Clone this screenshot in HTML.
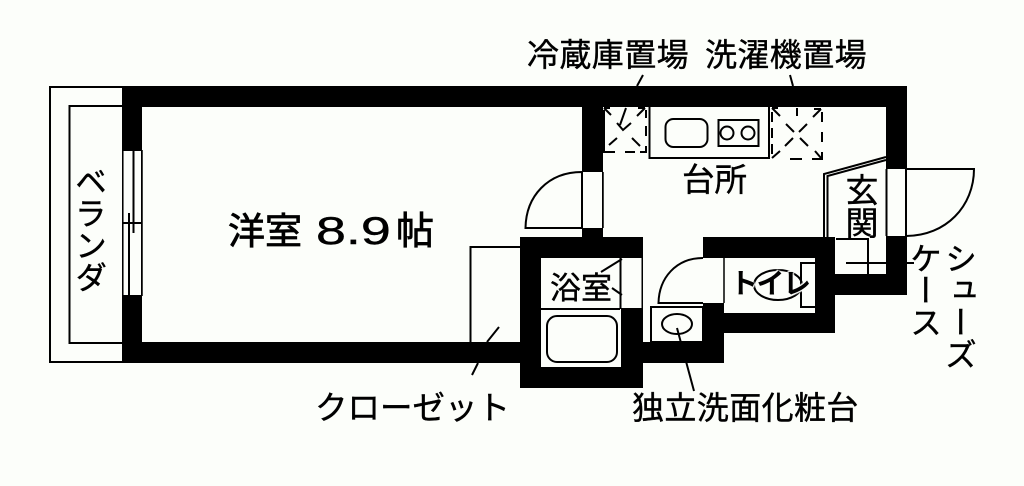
<!DOCTYPE html>
<html><head><meta charset="utf-8"><style>
html,body{margin:0;padding:0;background:#fcfefa;}
body{width:1024px;height:486px;overflow:hidden;position:relative;font-family:"Liberation Sans","Noto Sans CJK JP",sans-serif;color:#000;}
svg{position:absolute;left:0;top:0;}
.t{position:absolute;white-space:nowrap;line-height:1;-webkit-text-stroke:.4px #000;}
.v{writing-mode:vertical-rl;}
</style></head><body>
<svg width="1024" height="486" viewBox="0 0 1024 486">
<rect x="0" y="0" width="1024" height="486" fill="#fcfefa"/>
<rect x="50" y="87" width="74" height="275" fill="none" stroke="#000" stroke-width="2"/>
<path d="M122 106H69.5V343H122" fill="none" stroke="#000" stroke-width="2"/>
<g fill="#000">
<rect x="122" y="86" width="785" height="21"/>
<rect x="122" y="86" width="20" height="277"/>
<rect x="122" y="342" width="398" height="21"/>
<rect x="886" y="86" width="21" height="209"/>
<rect x="835" y="274" width="72" height="21"/>
<rect x="582" y="107" width="21" height="131"/>
<rect x="520" y="237" width="123" height="151"/>
<rect x="703" y="237" width="132" height="21"/>
<rect x="815" y="237" width="20" height="96"/>
<rect x="703" y="313" width="132" height="20"/>
<rect x="703" y="237" width="21" height="126"/>
<rect x="640" y="342" width="84" height="21"/>
</g>
<g fill="#fcfefa">
<rect x="541" y="258" width="80" height="109"/>
<rect x="620" y="258" width="22" height="50"/>
<rect x="724" y="258" width="91" height="55"/>
<rect x="703" y="258" width="21" height="45"/>
<rect x="123" y="150" width="18" height="146"/>
<rect x="583" y="172" width="19" height="56"/>
<rect x="887" y="169" width="19" height="67"/>
</g>
<g fill="none" stroke="#000" stroke-width="2">
<path d="M133.5 150V233M129 213V296M122 223H142" />
<path d="M122.500 150H141.500M122.500 296H141.500" />
<path d="M142 150V296" stroke-width="1.500"/>
<path d="M122.800 150V296" stroke-width="1.500"/>
<path d="M520 247H470.500V342"/>
<path d="M582 172V228H525.500C526 196 548 172 582 172H582"/>
<path d="M603 172V228" stroke-width="1.500"/>
<path d="M649.500 107V158H769V107"/>
<rect x="665.500" y="119" width="42" height="28" rx="8"/>
<rect x="718.500" y="120" width="40" height="26"/>
<circle cx="727" cy="133" r="6.500"/>
<circle cx="748" cy="133" r="6.500"/>
<!-- fridge -->
<path d="M604 110V152H615M625 152H635M640 152H646V146M646 136V126M646 118V110" stroke-width="2" stroke-dasharray="none"/>
<path d="M604 108L611 115M604 108H610M645 108L637 116M645 108H638M609 145L617 138M632 138L640 146"/>
<path d="M626 108L620 125M617 123L623 130L631 123"/>
<!-- washer -->
<path d="M772 112V122M772 128V138M772 144V154M790 159H802M812 159H822V152M822 142V132M822 122V112"/>
<path d="M772 108L780 116M772 108H778M821 109L813 117M821 109H814M786 124L794 132M807 124L799 132M785 146L793 138M808 146L800 138M772 158L780 151M821 158L815 151M797 108V116"/>
<path d="M643 75L637 86"/>
<path d="M790 75L793 86"/>
<path d="M824 238V174L886 157M827.500 238V176L886 160"/>
<path d="M836 239H868V274M846 263H886"/>
<path d="M906 263H914"/>
<path d="M886.500 169V236M906 169V236"/>
<path d="M906 169H974C974 206 946 236 906 236"/>
<path d="M541 309H620M620.500 258V309"/>
<rect x="547" y="316" width="70" height="46" rx="10"/>
<path d="M622 259L601 272M612 288L622 295"/>
<path d="M642 258V308" stroke-width="1"/>
<path d="M499 327L487 342M478 363L472 375"/>
<path d="M703 258C676 258 659 278 658.500 303H703"/>
<path d="M724 258V303" stroke-width="1.500"/>
<rect x="651" y="307" width="52" height="35" fill="#fcfefa"/>
<ellipse cx="677" cy="324" rx="15" ry="10"/>
<path d="M677 328L694 391" stroke-width="2"/>
<path d="M815 263H801V307H815"/>
<ellipse cx="778" cy="285" rx="24" ry="15"/>
</g>
</svg>
<div class="t" style="left:527px;top:39px;font-size:32px;letter-spacing:.4px;">冷蔵庫置場</div>
<div class="t" style="left:705px;top:39px;font-size:32px;letter-spacing:.4px;">洗濯機置場</div>
<div class="t" style="left:682px;top:164px;font-size:32.500px;">台所</div>
<div class="t" style="left:228px;top:213px;font-size:37px;-webkit-text-stroke:.8px #000;">洋室</div>
<div class="t" style="left:316px;top:212px;font-size:39px;transform:scaleX(1.380);transform-origin:left top;">8.9</div>
<div class="t" style="left:396px;top:213px;font-size:38px;-webkit-text-stroke:.8px #000;">帖</div>
<div class="t" style="left:550px;top:273px;font-size:31px;">浴室</div>
<div class="t" style="left:315px;top:392px;font-size:32.500px;">クローゼット</div>
<div class="t" style="left:632px;top:392px;font-size:32px;letter-spacing:.4px;">独立洗面化粧台</div>
<div class="t v" style="left:73px;top:165px;font-size:32px;">ベランダ</div>
<div class="t v" style="left:843px;top:173px;font-size:33px;">玄関</div>
<div class="t v" style="left:908px;top:242px;font-size:32px;">ケース</div>
<div class="t v" style="left:943px;top:242px;font-size:32px;">シューズ</div>
<div class="t" style="left:730px;top:270px;font-size:28px;letter-spacing:-1.500px;font-weight:700;text-shadow:0 0 2px #fcfefa,0 0 2px #fcfefa,1px 1px 1px #fcfefa,-1px -1px 1px #fcfefa;-webkit-text-stroke:0;">トイレ</div>
</body></html>
